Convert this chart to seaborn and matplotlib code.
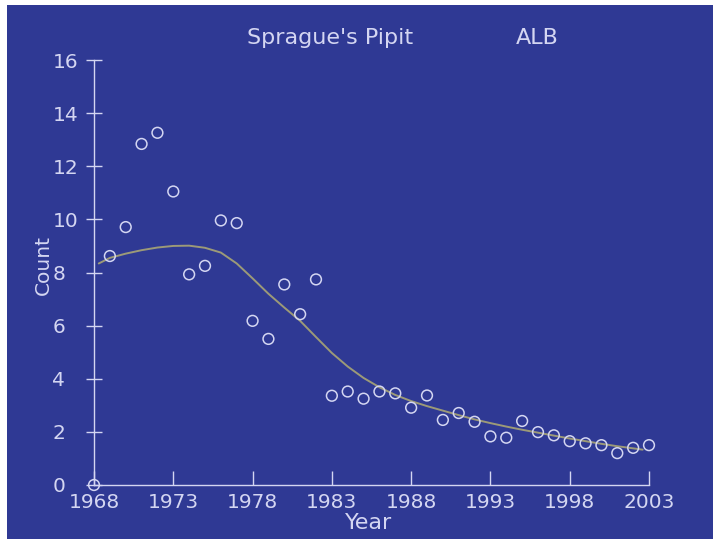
import matplotlib
matplotlib.use("Agg")
import matplotlib.pyplot as plt
import seaborn as sns
import pandas as pd
from matplotlib.patches import Rectangle

# ---- data ----
years = list(range(1968, 2004))
counts = [0.0, 8.62, 9.71, 12.84, 13.26, 11.05, 7.93, 8.25, 9.96, 9.86,
          6.18, 5.50, 7.55, 6.43, 7.74, 3.36, 3.52, 3.25, 3.52, 3.45,
          2.91, 3.37, 2.45, 2.71, 2.38, 1.83, 1.78, 2.41, 1.99, 1.87,
          1.65, 1.57, 1.50, 1.20, 1.40, 1.50]

curve_years = [1968.3, 1969, 1970, 1971, 1972, 1973, 1974, 1975, 1976, 1977,
               1978, 1979, 1980, 1981, 1982, 1983, 1984, 1985, 1986, 1987,
               1988, 1989, 1990, 1991, 1992, 1993, 1994, 1995, 1996, 1997,
               1998, 1999, 2000, 2001, 2002, 2002.6]
curve_vals = [8.34, 8.55, 8.71, 8.84, 8.94, 9.0, 9.01, 8.93, 8.75, 8.34,
              7.78, 7.2, 6.68, 6.18, 5.57, 4.97, 4.46, 4.03, 3.68, 3.39,
              3.16, 2.97, 2.8, 2.63, 2.47, 2.33, 2.2, 2.08, 1.97, 1.86,
              1.75, 1.65, 1.55, 1.46, 1.38, 1.33]

x_ticks = [1968, 1973, 1978, 1983, 1988, 1993, 1998, 2003]
y_ticks = [0, 2, 4, 6, 8, 10, 12, 14, 16]

title_name = "Sprague's Pipit"
title_region = "ALB"

pts = pd.DataFrame({"Year": years, "Count": counts})
crv = pd.DataFrame({"Year": curve_years, "Count": curve_vals})

# ---- style ----
BG = "#2f3994"
FG = "#d4d6f2"
CURVE = "#9c9a78"

sns.set_theme(style="ticks")
plt.rcParams["font.family"] = ["DejaVu Sans"]

W, H = 713, 539
fig = plt.figure(figsize=(W / 100, H / 100), dpi=100)
fig.patch.set_facecolor("white")
fig.patches.append(Rectangle((7 / W, 0), 1 - 7 / W, 1 - 5 / H,
                             transform=fig.transFigure, facecolor=BG,
                             edgecolor="none", zorder=-10))

ax = fig.add_axes([94 / W, (H - 485) / H, (649 - 94) / W, (485 - 60) / H])
ax.set_facecolor("none")

sns.lineplot(data=crv, x="Year", y="Count", ax=ax, color=CURVE,
             linewidth=1.4, zorder=2)
sns.scatterplot(data=pts, x="Year", y="Count", ax=ax, marker="o", s=60,
                facecolor="none", edgecolor=FG, linewidth=1.1, zorder=3,
                clip_on=False)

ax.set_xlim(1968, 2003)
ax.set_ylim(0, 16)
ax.set_xticks(x_ticks)
ax.set_yticks(y_ticks)
ax.set_xlabel("")
ax.set_ylabel("")

for s in ["top", "right"]:
    ax.spines[s].set_visible(False)
for s in ["left", "bottom"]:
    ax.spines[s].set_color(FG)
    ax.spines[s].set_linewidth(1.0)

ax.tick_params(axis="x", direction="in", length=10, width=1.0, colors=FG,
               labelsize=14.5, pad=6)
ax.tick_params(axis="y", direction="inout", length=12, width=1.0, colors=FG,
               labelsize=14.5, pad=24)
for lab in ax.get_yticklabels():
    lab.set_horizontalalignment("left")

fig.text(247 / W, 1 - 38 / H, title_name, color=FG, fontsize=16,
         ha="left", va="center")
fig.text(516 / W, 1 - 38 / H, title_region, color=FG, fontsize=16,
         ha="left", va="center")
fig.text(43 / W, 1 - 265 / H, "Count", color=FG, fontsize=14.5,
         rotation=90, ha="center", va="center")
fig.text(369 / W, 1 - 523 / H, "Year", color=FG, fontsize=16,
         ha="center", va="center")

fig.savefig("out.png", dpi=100, facecolor=fig.get_facecolor())
